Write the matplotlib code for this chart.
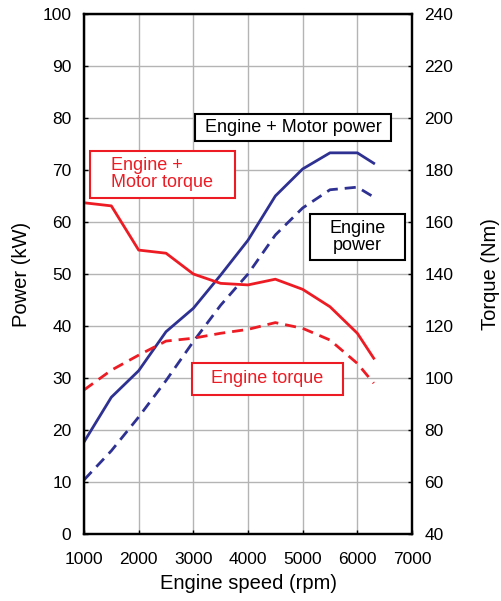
import matplotlib
matplotlib.use('Agg')
import matplotlib.pyplot as plt
from matplotlib.patches import Rectangle

plt.rcParams['font.family'] = ['Liberation Sans', 'DejaVu Sans']

# Engine speed (rpm)
rpm = [1000, 1500, 2000, 2500, 3000, 3500, 4000, 4500, 5000, 5500, 6000, 6300]

# Power (kW)
power_total = [17.7, 26.3, 31.4, 38.9, 43.4, 49.8, 56.5, 65.0, 70.2, 73.3, 73.3, 71.3]
power_engine = [10.4, 16.0, 22.5, 29.5, 37.0, 44.0, 50.0, 57.5, 62.7, 66.2, 66.7, 64.8]

# Torque (Nm)
torque_total = [167.4, 166.2, 149.2, 148.0, 140.0, 136.4, 135.8, 138.0, 134.1, 127.4, 117.2, 107.6]
torque_engine = [95.4, 103.0, 108.8, 114.2, 115.3, 117.2, 118.7, 121.3, 119.1, 114.6, 105.6, 98.0]

azul = '#2e3192'
rojo = '#ed1c24'

fig = plt.figure(figsize=(5.01, 6.01), dpi=100)
ax = fig.add_axes([84/501, 67/601, 328/501, 520/601])
ax2 = ax.twinx()

ax.plot(rpm, power_total, '-', color=azul, lw=2)
ax.plot(rpm, power_engine, '--', color=azul, lw=2, dashes=(4, 2.5))
ax2.plot(rpm, torque_total, '-', color=rojo, lw=2)
ax2.plot(rpm, torque_engine, '--', color=rojo, lw=2, dashes=(4, 2.5))

ax.set_xlim(1000, 7000)
ax.set_ylim(0, 100)
ax2.set_ylim(40, 240)
ax.set_xticks(range(1000, 7001, 1000))
ax.set_yticks(range(0, 101, 10))
ax2.set_yticks(range(40, 241, 20))

ax.grid(True, color='#b4b4b4', lw=1)
ax.set_axisbelow(True)
for a in (ax, ax2):
    for s in a.spines.values():
        s.set_linewidth(1.6)
    a.tick_params(direction='in', length=3, labelsize=12.5, width=1)
ax.tick_params(axis='x', pad=13)
ax.tick_params(axis='y', pad=9)
ax2.tick_params(axis='y', pad=9)

ax.set_xlabel('Engine speed (rpm)', fontsize=14.5, labelpad=5)
ax.set_ylabel('Power (kW)', fontsize=14.5, labelpad=8)
ax2.set_ylabel('Torque (Nm)', fontsize=14.5, labelpad=20)


# recuadros de las etiquetas (en fracción de ejes)
def recuadro(x0, y0, x1, y1, color):
    ax2.add_patch(Rectangle((x0, y0), x1 - x0, y1 - y0, transform=ax.transAxes,
                            fc='white', ec=color, lw=1.5, zorder=5))


recuadro(0.3384, 0.7558, 0.9360, 0.8071, 'black')
ax2.text(0.6372, 0.7814, 'Engine + Motor power', fontsize=13, ha='center', va='center',
         transform=ax.transAxes, zorder=6)

recuadro(0.6890, 0.5269, 0.9787, 0.6154, 'black')
ax2.text(0.8338, 0.5712, 'Engine\npower', fontsize=13, ha='center', va='center',
         transform=ax.transAxes, zorder=6, linespacing=1.0)

recuadro(0.0183, 0.6467, 0.4604, 0.7365, rojo)
ax2.text(0.0823, 0.6915, 'Engine +\nMotor torque', fontsize=13, ha='left', va='center',
         color=rojo, transform=ax.transAxes, zorder=6, linespacing=1.0)

recuadro(0.3293, 0.2673, 0.7896, 0.3288, rojo)
ax2.text(0.5595, 0.2981, 'Engine torque', fontsize=13, ha='center', va='center',
         color=rojo, transform=ax.transAxes, zorder=6)

plt.savefig('out.png', dpi=100)
